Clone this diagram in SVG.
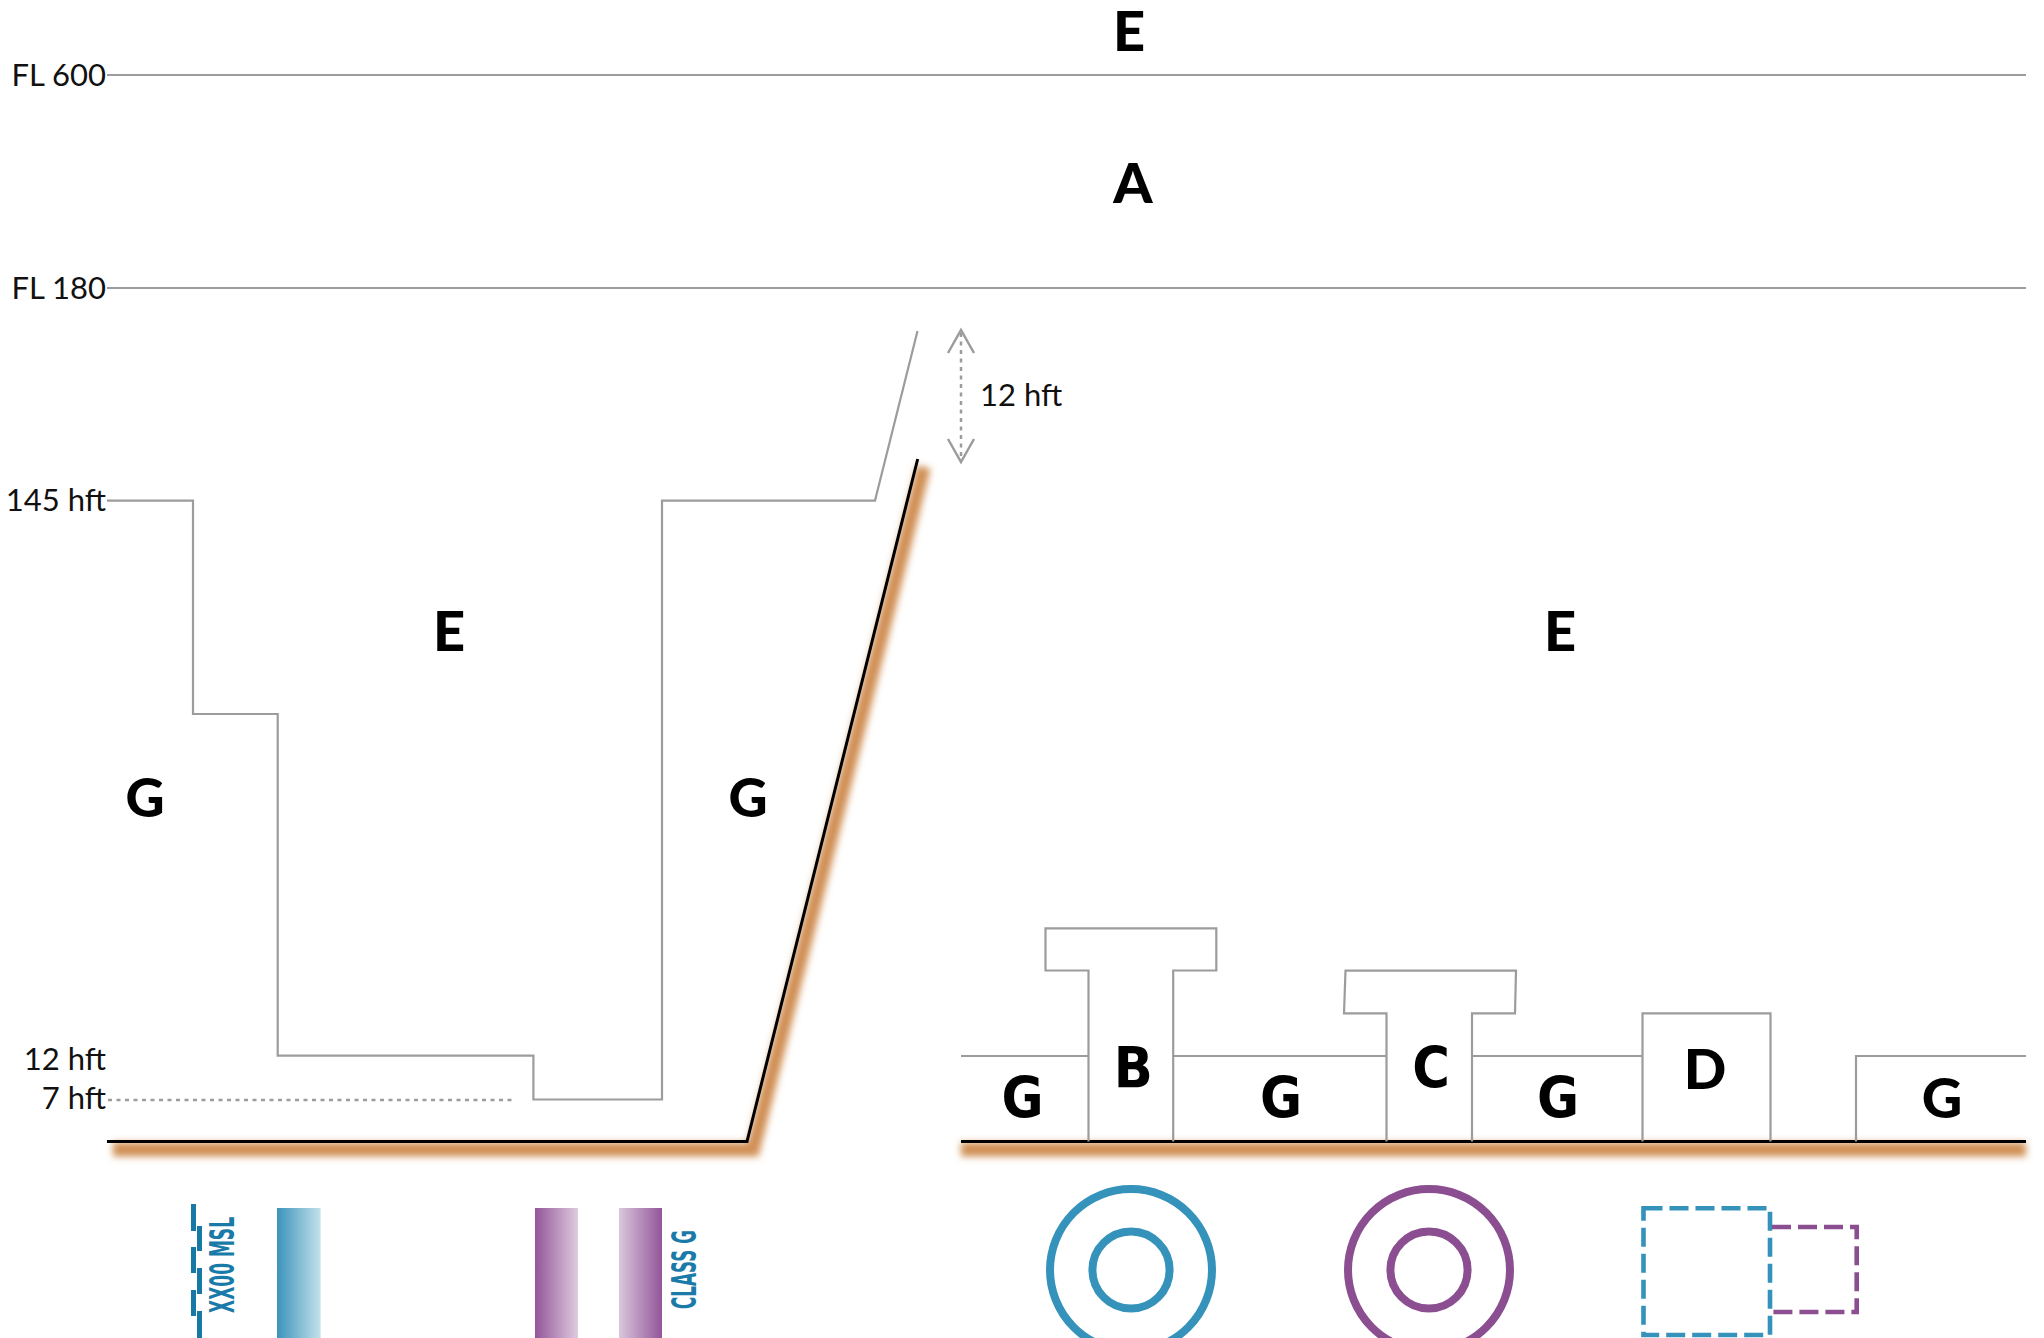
<svg xmlns="http://www.w3.org/2000/svg" width="2044" height="1338" viewBox="0 0 2044 1338">
<style>
.gl{fill:none;stroke:#9c9c9c;stroke-width:2.2}
.lbl{font-family:Lato,"Open Sans","Liberation Sans",sans-serif;font-size:31px;fill:#111}
.big{font-family:Lato,"Open Sans","Liberation Sans",sans-serif;font-weight:900;font-size:56px;fill:#000;text-anchor:middle}
.cond{font-family:"DejaVu Sans Condensed","DejaVu Sans",sans-serif;font-weight:bold;font-size:57px;fill:#000;text-anchor:middle}
.leg{font-family:"DejaVu Sans Condensed","DejaVu Sans",sans-serif;font-weight:bold;font-size:34px;fill:#1a7aa8}
.ground{fill:none;stroke:#000;stroke-width:3}
.glow{fill:none;stroke:#d08f55;stroke-width:14;filter:url(#blur)}
.dot{fill:none;stroke:#9c9c9c;stroke-width:2.5;stroke-dasharray:4 4.5}
</style>
<defs>
<filter id="blur" filterUnits="userSpaceOnUse" x="0" y="0" width="2044" height="1338"><feGaussianBlur stdDeviation="3.5"/></filter>
<linearGradient id="gBlue" x1="0" y1="0" x2="1" y2="0"><stop offset="0" stop-color="#3c93bb"/><stop offset="1" stop-color="#c4e1eb"/></linearGradient>
<linearGradient id="gPurA" x1="0" y1="0" x2="1" y2="0"><stop offset="0" stop-color="#925699"/><stop offset="1" stop-color="#dfcbe0"/></linearGradient>
<linearGradient id="gPurB" x1="0" y1="0" x2="1" y2="0"><stop offset="0" stop-color="#dac6dc"/><stop offset="1" stop-color="#925699"/></linearGradient>
</defs>
<rect width="2044" height="1338" fill="#fff"/>

<g id="levels">
<line class="gl" x1="107" y1="75" x2="2026" y2="75"/>
<text class="lbl" x="106" y="86" text-anchor="end">FL 600</text>
<line class="gl" x1="107" y1="288" x2="2026" y2="288"/>
<text class="lbl" x="106" y="298.5" text-anchor="end">FL 180</text>
<text class="lbl" x="106" y="511" text-anchor="end">145 hft</text>
<text class="lbl" x="106" y="1070" text-anchor="end">12 hft</text>
<text class="lbl" x="106" y="1109" text-anchor="end">7 hft</text>
<line class="dot" x1="108" y1="1100" x2="512" y2="1100"/>
</g>

<g id="left-boundary">
<path class="gl" d="M107,500.6 H193 V714 H277.7 V1055.7 H533.4 V1099.5 H662 V500.6 H875 L917.5,331"/>
</g>

<g id="measure-12hft">
<line class="dot" x1="961" y1="333" x2="961" y2="459"/>
<path class="gl" style="stroke-width:2.5" d="M948,353 L961,330 L974,353 M948,439 L961,462 L974,439"/>
<text class="lbl" x="980" y="406">12 hft</text>
</g>

<g id="terrain">
<path class="glow" transform="translate(6,8)" d="M107,1141.5 H747 L917.7,459"/>
<path class="glow" transform="translate(0,8)" d="M961,1141.5 H2026"/>
<path class="ground" d="M107,1141.5 H747 L917.7,459"/>
<path class="ground" d="M961,1141.5 H2026"/>
</g>

<g id="airports">
<path class="gl" d="M961,1056 H1088.5"/>
<path class="gl" d="M1088.5,1141.5 V970.5 H1045.5 V928.3 H1216.3 V970.5 H1173.2 V1141.5"/>
<path class="gl" d="M1173.2,1056 H1386.5"/>
<path class="gl" d="M1386.5,1141.5 V1013.3 H1344 L1345.5,970.7 H1516 L1515,1013.3 H1472 V1141.5"/>
<path class="gl" d="M1472,1056 H1642.5"/>
<path class="gl" d="M1642.5,1141.5 V1013.3 H1770.5 V1141.5"/>
<path class="gl" d="M1856,1141.5 V1056 H2026"/>
</g>

<g id="class-labels">
<text class="big" x="1129" y="51">E</text>
<text class="big" x="1133" y="203">A</text>
<text class="big" x="449" y="651">E</text>
<text class="big" x="1560" y="651">E</text>
<text class="big" x="145" y="817" style="font-size:54px">G</text>
<text class="big" x="748" y="817" style="font-size:54px">G</text>
<text class="cond" x="1022.5" y="1118">G</text>
<text class="cond" x="1133.3" y="1088.3">B</text>
<text class="cond" x="1281" y="1118">G</text>
<text class="cond" x="1431" y="1088.3">C</text>
<text class="cond" x="1558" y="1118">G</text>
<text class="big" x="1705" y="1089">D</text>
<text class="big" x="1942" y="1118">G</text>
</g>

<g id="legend-msl">
<g fill="#1878a6">
<rect x="191" y="1204" width="5" height="27"/>
<rect x="197" y="1226" width="5" height="25"/>
<rect x="191" y="1247" width="5" height="26"/>
<rect x="197" y="1268" width="5" height="26"/>
<rect x="191" y="1290" width="5" height="26"/>
<rect x="197" y="1311" width="5" height="27"/>
</g>
<text class="leg" transform="translate(234,1313) rotate(-90)" textLength="96" lengthAdjust="spacingAndGlyphs">XX00 MSL</text>
</g>
<g id="legend-bars">
<rect x="277" y="1208" width="43.6" height="130" fill="url(#gBlue)"/>
<rect x="535" y="1208" width="43" height="130" fill="url(#gPurA)"/>
<rect x="619" y="1208" width="43" height="130" fill="url(#gPurB)"/>
<text class="leg" transform="translate(696,1309) rotate(-90)" textLength="79" lengthAdjust="spacingAndGlyphs">CLASS G</text>
</g>
<g id="legend-symbols">
<circle cx="1131" cy="1270" r="81" fill="none" stroke="#3592ba" stroke-width="8"/>
<circle cx="1131" cy="1270" r="38.6" fill="none" stroke="#3592ba" stroke-width="8"/>
<circle cx="1429" cy="1270" r="81" fill="none" stroke="#8b4f91" stroke-width="8"/>
<circle cx="1429" cy="1270" r="38.6" fill="none" stroke="#8b4f91" stroke-width="8"/>
<rect x="1643.5" y="1208.3" width="126.5" height="126.7" fill="none" stroke="#3592ba" stroke-width="4.6" stroke-dasharray="19 7"/>
<path d="M1772,1227 H1856.7 V1312 H1772" fill="none" stroke="#8b4f91" stroke-width="4.6" stroke-dasharray="19 7"/>
</g>
</svg>
